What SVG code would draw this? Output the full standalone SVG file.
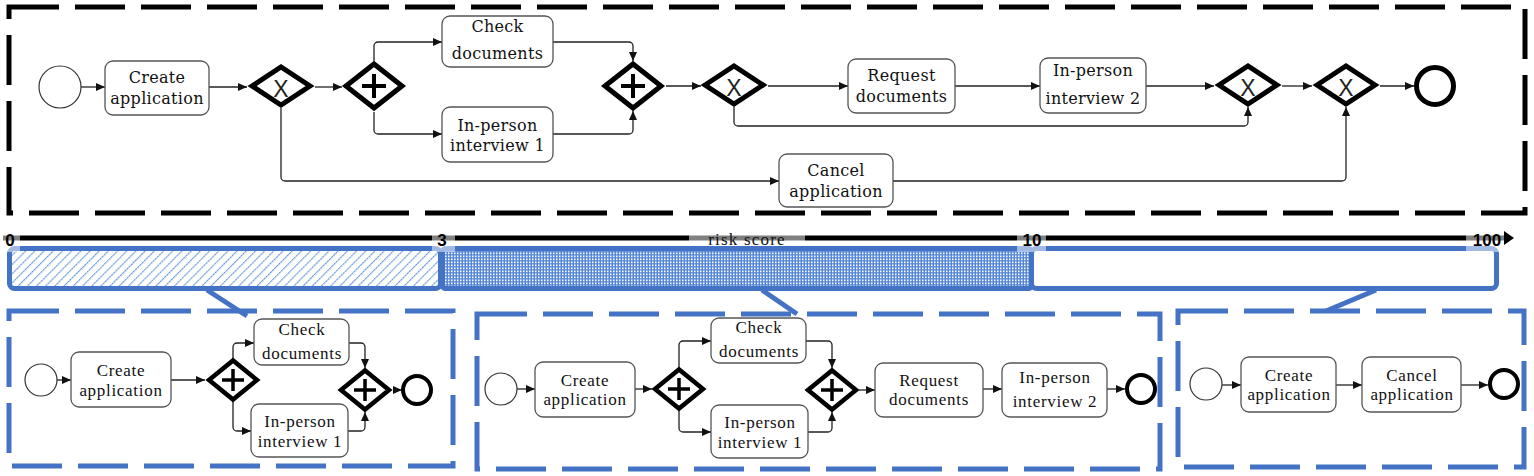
<svg xmlns="http://www.w3.org/2000/svg" width="1534" height="476" viewBox="0 0 1534 476">
<style>
.task{fill:#fff;stroke:#555;stroke-width:1.3}
.t{font-family:"DejaVu Serif","Liberation Serif",serif;font-size:16px;fill:#111;text-anchor:middle;letter-spacing:0.3px}
.tb{font-family:"Liberation Serif","DejaVu Serif",serif;font-size:17px;fill:#111;text-anchor:middle;letter-spacing:0.7px}
.start{fill:#fff;stroke:#333;stroke-width:1.2}
.end{fill:#fff;stroke:#000;stroke-width:5}
.endb{fill:#fff;stroke:#000;stroke-width:4}
.gw{fill:#fff;stroke:#000;stroke-width:5;stroke-linejoin:miter}
.gwb{fill:#fff;stroke:#000;stroke-width:4.5;stroke-linejoin:miter}
.plus{stroke:#000;stroke-width:4;fill:none}
.plusb{stroke:#000;stroke-width:3.5;fill:none}
.x{font-family:"Liberation Sans","DejaVu Sans",sans-serif;font-size:23px;fill:#222;text-anchor:middle}
.flow{fill:none;stroke:#222;stroke-width:1.3;marker-end:url(#arr)}
.frame{fill:none;stroke:#000;stroke-width:5;stroke-dasharray:50 16}
.bframe{fill:none;stroke:#4472C4;stroke-width:5;stroke-dasharray:50 16}
.seg{stroke:#4472C4;stroke-width:5}
.lbl{fill:#fff;fill-opacity:0.5}
.num{font-family:"Liberation Sans","DejaVu Sans",sans-serif;font-size:17px;font-weight:bold;fill:#000;text-anchor:middle}
.risk{font-family:"Liberation Serif","DejaVu Serif",serif;font-size:17px;fill:#111;text-anchor:middle;letter-spacing:1.2px}
.diag{stroke:#4472C4;stroke-width:5;fill:none}
</style>
<defs>
<marker id="arr" markerUnits="userSpaceOnUse" markerWidth="9" markerHeight="8" refX="9" refY="4" orient="auto">
<path d="M0,0 L9,4 L0,8 z" fill="#111"/>
</marker>
<pattern id="hatch" width="6.5" height="6" patternUnits="userSpaceOnUse" patternTransform="rotate(45)">
<rect width="6.5" height="6" fill="#fff"/>
<line x1="0.5" y1="0" x2="0.5" y2="6" stroke="#6a9ad9" stroke-width="1.3" stroke-dasharray="2.5 0.5"/>
</pattern>
<pattern id="dots" width="3" height="3" patternUnits="userSpaceOnUse">
<rect width="3" height="3" fill="#5587d6"/>
<rect x="1" y="0.5" width="1.5" height="1.7" fill="#fff"/>
</pattern>
</defs>
<rect width="1534" height="476" fill="#fff"/>

<!-- top frame -->
<rect id="topFrame" class="frame" x="9" y="7" width="1516" height="206"/>

<!-- connectors -->
<g id="connectors">
<path class="flow" d="M81 87 H105"/>
<path class="flow" d="M209 87 H247"/>
<path class="flow" d="M315 87 H342"/>
<path class="flow" d="M374 61 V46 A4 4 0 0 1 378 42 H442"/>
<path class="flow" d="M374 112 V130 A4 4 0 0 0 378 134 H442"/>
<path class="flow" d="M281 108 V177 A4 4 0 0 0 285 181 H779"/>
<path class="flow" d="M553 42 H629 A4 4 0 0 1 633 46 V61"/>
<path class="flow" d="M553 134 H629 A4 4 0 0 0 633 130 V111"/>
<path class="flow" d="M666 86 H701"/>
<path class="flow" d="M768 86 H848"/>
<path class="flow" d="M734 107 V122 A4 4 0 0 0 738 126 H1244 A4 4 0 0 0 1248 122 V107"/>
<path class="flow" d="M955 86 H1040"/>
<path class="flow" d="M1146 86 H1214"/>
<path class="flow" d="M1282 86 H1312"/>
<path class="flow" d="M893 181 H1342 A4 4 0 0 0 1346 177 V107"/>
<path class="flow" d="M1380 86 H1414"/>
<!-- panel 1 -->
<path class="flow" d="M57 380 H71"/>
<path class="flow" d="M171 380 H205"/>
<path class="flow" d="M233 358 V347 A4 4 0 0 1 237 343 H254"/>
<path class="flow" d="M233 402 V427 A4 4 0 0 0 237 431 H251"/>
<path class="flow" d="M349 343 H361 A4 4 0 0 1 365 347 V368"/>
<path class="flow" d="M348 431 H361 A4 4 0 0 0 365 427 V412"/>
<path class="flow" d="M393 390 H402"/>
<!-- panel 2 -->
<path class="flow" d="M517 389 H535"/>
<path class="flow" d="M635 389 H652"/>
<path class="flow" d="M679 367 V345 A4 4 0 0 1 683 341 H711"/>
<path class="flow" d="M679 411 V428 A4 4 0 0 0 683 432 H711"/>
<path class="flow" d="M806 341 H828 A4 4 0 0 1 832 345 V368"/>
<path class="flow" d="M808 432 H828 A4 4 0 0 0 832 428 V412"/>
<path class="flow" d="M859 390 H875"/>
<path class="flow" d="M983 389 H1002"/>
<path class="flow" d="M1107 389 H1125"/>
<!-- panel 3 -->
<path class="flow" d="M1222 385 H1241"/>
<path class="flow" d="M1336 385 H1362"/>
<path class="flow" d="M1461 385 H1488"/>
<!-- bar to panels -->
<path class="diag" d="M207 290 L247 316"/>
<path class="diag" d="M762 290 L797 314"/>
<path class="diag" d="M1376 290 L1326 311"/>
</g>

<!-- top nodes -->
<g id="t_start"><circle class="start" cx="60" cy="87" r="21"/></g>
<g id="t_create"><rect class="task" x="105" y="61" width="104" height="54" rx="8"/><text class="t" x="157" y="83">Create</text><text class="t" x="157" y="104">application</text></g>
<g id="t_xor1"><path class="gw" d="M252 86 L281 67 L310 86 L281 105 Z"/><text class="x" x="281" y="97">X</text></g>
<g id="t_and1"><path class="gw" d="M346 86 L374 64 L402 86 L374 108 Z"/><path class="plus" d="M362 86 H386 M374 74 V98"/></g>
<g id="t_check"><rect class="task" x="442" y="16" width="111" height="51" rx="8"/><text class="t" x="497.5" y="32">Check</text><text class="t" x="497.5" y="59">documents</text></g>
<g id="t_int1"><rect class="task" x="442" y="107" width="111" height="55" rx="8"/><text class="t" x="497.5" y="131">In-person</text><text class="t" x="497.5" y="151">interview 1</text></g>
<g id="t_and2"><path class="gw" d="M605 86 L633 64 L661 86 L633 108 Z"/><path class="plus" d="M621 86 H645 M633 74 V98"/></g>
<g id="t_xor2"><path class="gw" d="M705 85 L734 66 L763 85 L734 104 Z"/><text class="x" x="734" y="96">X</text></g>
<g id="t_cancel"><rect class="task" x="779" y="154" width="114" height="53" rx="8"/><text class="t" x="836" y="176">Cancel</text><text class="t" x="836" y="197">application</text></g>
<g id="t_request"><rect class="task" x="848" y="59" width="107" height="54" rx="8"/><text class="t" x="901.5" y="81">Request</text><text class="t" x="901.5" y="102">documents</text></g>
<g id="t_int2"><rect class="task" x="1040" y="58" width="106" height="55" rx="8"/><text class="t" x="1093" y="76">In-person</text><text class="t" x="1093" y="104">interview 2</text></g>
<g id="t_xor3"><path class="gw" d="M1219 85 L1248 66 L1277 85 L1248 104 Z"/><text class="x" x="1248" y="96">X</text></g>
<g id="t_xor4"><path class="gw" d="M1317 85 L1346 66 L1375 85 L1346 104 Z"/><text class="x" x="1346" y="96">X</text></g>
<g id="t_end"><circle class="end" cx="1435" cy="86" r="18.5"/></g>

<!-- scale -->
<g id="scale">
<path d="M3 238 H1505" stroke="#000" stroke-width="5"/>
<polygon points="1504,231 1514,238 1504,245" fill="#000"/>
<rect class="seg" x="9.5" y="248.5" width="431" height="40" rx="5" fill="url(#hatch)"/>
<rect class="seg" x="442.5" y="248.5" width="589" height="40" rx="3" fill="url(#dots)"/>
<rect class="seg" x="1031.5" y="248.5" width="465" height="40" rx="5" fill="#fff"/>
<rect class="lbl" x="3" y="226" width="17" height="26"/>
<rect class="lbl" x="432" y="226" width="23" height="26"/>
<rect class="lbl" x="689" y="228" width="116" height="18"/>
<rect class="lbl" x="1017" y="226" width="29" height="26"/>
<rect class="lbl" x="1466" y="226" width="38" height="26"/>
<text class="num" x="10" y="246">0</text>
<text class="num" x="442" y="246">3</text>
<text class="risk" x="747" y="245">risk score</text>
<text class="num" x="1032" y="246">10</text>
<text class="num" x="1487" y="246">100</text>
</g>

<!-- panel frames -->
<rect id="p1Frame" class="bframe" x="9" y="311" width="444" height="155"/>
<rect id="p2Frame" class="bframe" x="477" y="314" width="683" height="155"/>
<rect id="p3Frame" class="bframe" x="1178" y="311" width="346" height="156"/>

<!-- panel 1 nodes -->
<g id="p1_start"><circle class="start" cx="41" cy="380" r="16"/></g>
<g id="p1_create"><rect class="task" x="71" y="352" width="100" height="55" rx="8"/><text class="tb" x="121" y="376">Create</text><text class="tb" x="121" y="396">application</text></g>
<g id="p1_and1"><path class="gwb" d="M209 380 L233 360.5 L257 380 L233 399.5 Z"/><path class="plusb" d="M222 380 H244 M233 369 V391"/></g>
<g id="p1_check"><rect class="task" x="254" y="319" width="95" height="46" rx="8"/><text class="tb" x="302" y="335">Check</text><text class="tb" x="302" y="359">documents</text></g>
<g id="p1_int1"><rect class="task" x="251" y="404" width="97" height="53" rx="8"/><text class="tb" x="300" y="427">In-person</text><text class="tb" x="300" y="447">interview 1</text></g>
<g id="p1_and2"><path class="gwb" d="M341 390 L365 370.5 L389 390 L365 409.5 Z"/><path class="plusb" d="M354 390 H376 M365 379 V401"/></g>
<g id="p1_end"><circle class="endb" cx="417" cy="390" r="14"/></g>

<!-- panel 2 nodes -->
<g id="p2_start"><circle class="start" cx="501" cy="389" r="16"/></g>
<g id="p2_create"><rect class="task" x="535" y="362" width="100" height="55" rx="8"/><text class="tb" x="585" y="386">Create</text><text class="tb" x="585" y="405">application</text></g>
<g id="p2_and1"><path class="gwb" d="M655 389 L679 369.5 L703 389 L679 408.5 Z"/><path class="plusb" d="M668 389 H690 M679 378 V400"/></g>
<g id="p2_check"><rect class="task" x="711" y="318" width="95" height="45" rx="8"/><text class="tb" x="759" y="333">Check</text><text class="tb" x="759" y="357">documents</text></g>
<g id="p2_int1"><rect class="task" x="711" y="405" width="97" height="53" rx="8"/><text class="tb" x="760" y="428">In-person</text><text class="tb" x="760" y="448">interview 1</text></g>
<g id="p2_and2"><path class="gwb" d="M808 390 L832 370.5 L856 390 L832 409.5 Z"/><path class="plusb" d="M821 390 H843 M832 379 V401"/></g>
<g id="p2_request"><rect class="task" x="875" y="363" width="108" height="54" rx="8"/><text class="tb" x="929" y="386">Request</text><text class="tb" x="929" y="405">documents</text></g>
<g id="p2_int2"><rect class="task" x="1002" y="363" width="105" height="54" rx="8"/><text class="tb" x="1055" y="383">In-person</text><text class="tb" x="1055" y="407">interview 2</text></g>
<g id="p2_end"><circle class="endb" cx="1141" cy="389" r="14"/></g>

<!-- panel 3 nodes -->
<g id="p3_start"><circle class="start" cx="1206" cy="384" r="16"/></g>
<g id="p3_create"><rect class="task" x="1241" y="357" width="95" height="55" rx="8"/><text class="tb" x="1289" y="381">Create</text><text class="tb" x="1289" y="400">application</text></g>
<g id="p3_cancel"><rect class="task" x="1362" y="357" width="99" height="55" rx="8"/><text class="tb" x="1412" y="381">Cancel</text><text class="tb" x="1412" y="400">application</text></g>
<g id="p3_end"><circle class="endb" cx="1504" cy="384" r="14"/></g>
</svg>
